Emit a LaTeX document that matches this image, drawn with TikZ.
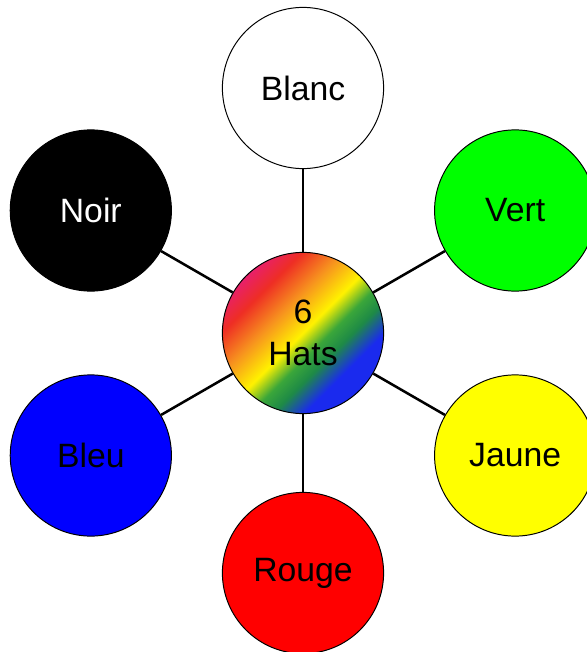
\documentclass[tikz,border=0pt]{standalone}
\usepackage{fontspec}
\setmainfont{Liberation Sans}
\usepackage{tikz}
\usetikzlibrary{positioning, calc}
\usepackage{xcolor}
\definecolor{hgreen}{HTML}{00FF00}
\definecolor{hyellow}{HTML}{FFFF00}
\definecolor{hred}{HTML}{FF0000}
\definecolor{hblue}{HTML}{0000FF}
\definecolor{hpink}{HTML}{E8206A}
\definecolor{hscarlet}{HTML}{EE2E24}
\definecolor{horange}{HTML}{F7931E}
\definecolor{hgold}{HTML}{FFF200}
\definecolor{hleaf}{HTML}{3AA63A}
\definecolor{hforest}{HTML}{1E8A46}
\definecolor{hnavy}{HTML}{1A2AEE}
\pgfdeclarehorizontalshading{rainbowhat}{100bp}{
  color(0bp)=(hpink); color(25bp)=(hpink);
  color(32bp)=(hscarlet); color(41bp)=(horange);
  color(50bp)=(hgold); color(56bp)=(hleaf);
  color(61bp)=(hforest); color(68bp)=(hnavy);
  color(100bp)=(hnavy)}
\tikzset{
  hat/.style={circle, draw=black, line width=0.7pt, minimum size=4.03cm,
              inner sep=0pt, font=\fontsize{24}{30}\selectfont, align=center},
  spoke/.style={line width=1.8pt, black},
}
\begin{document}
\begin{tikzpicture}
    \useasboundingbox (-7.575,-7.975) rectangle (7.075,8.325);
    \node[hat, shading=rainbowhat, shading angle=-45] (hub) at (0,0) {6\\Hats};

    \node[hat, fill=white] (blanc) at (90:6.125) {Blanc};
    \node[hat, fill=hgreen] (vert) at (30:6.125) {Vert};
    \node[hat, fill=hyellow] (jaune) at (-30:6.125) {Jaune};
    \node[hat, fill=hred] (rouge) at (-90:6.0) {Rouge};
    \node[hat, fill=hblue] (bleu) at (210:6.125) {Bleu};
    \node[hat, fill=black, text=white] (noir) at (150:6.125) {Noir};

    \foreach \h in {blanc, vert, jaune, rouge, bleu, noir}
      \draw[spoke] (hub) -- (\h);
\end{tikzpicture}
\end{document}
